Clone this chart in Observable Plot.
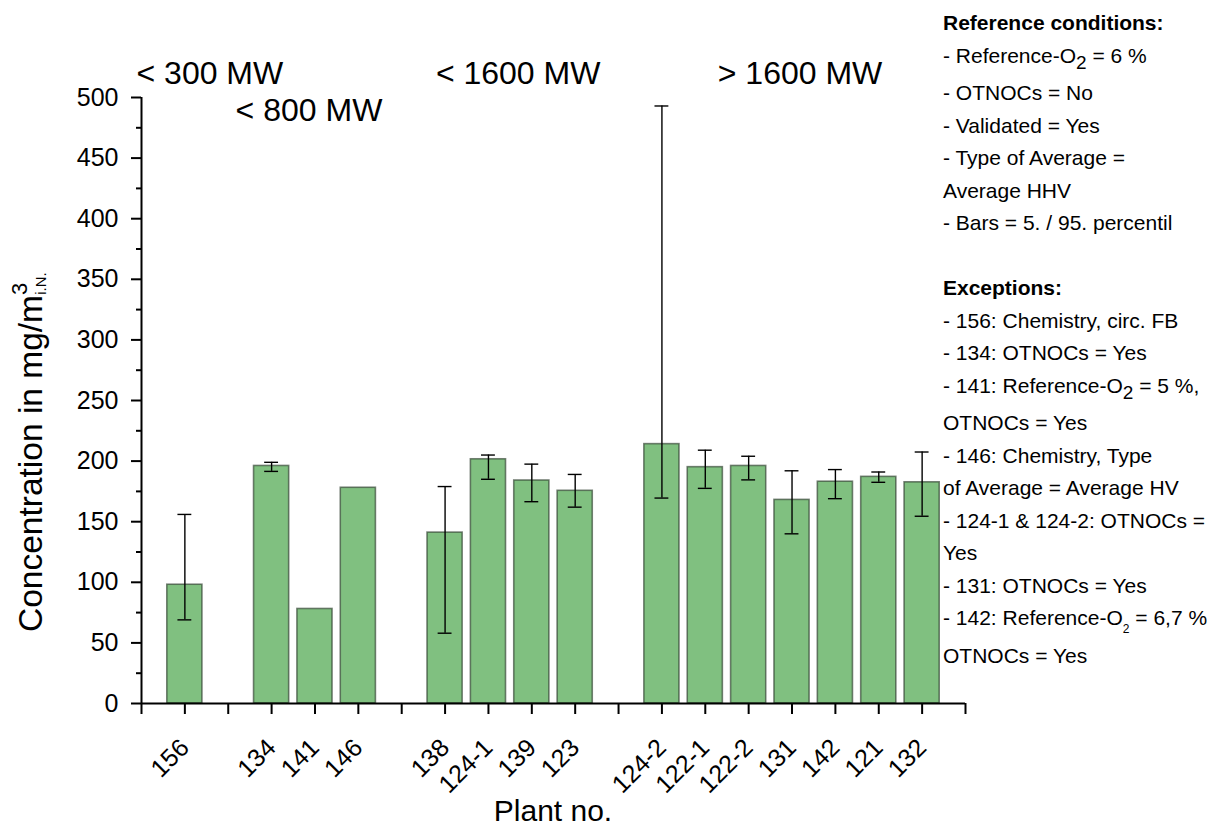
<!DOCTYPE html>
<html>
<head>
<meta charset="utf-8">
<script src="https://cdn.jsdelivr.net/npm/d3@7"></script>
<script src="https://cdn.jsdelivr.net/npm/@observablehq/plot@0.6"></script>
<style>
  html, body { margin: 0; padding: 0; background: #fff; }
  #chart { font-family: "Liberation Sans", Arial, sans-serif; }
</style>
</head>
<body>
<div id="chart"></div>
<script>
// Plants, their capacity class and the concentration statistics (mg/m³ i.N.)
const plants   = ["156", "134", "141", "146", "138", "124-1", "139", "123", "124-2", "122-1", "122-2", "131", "142", "121", "132"];
const groupOf  = [0, 1, 1, 1, 2, 2, 2, 2, 3, 3, 3, 3, 3, 3, 3];
const groupNames = ["< 300 MW", "< 800 MW", "< 1600 MW", "> 1600 MW"];
const average  = [98, 196, 78, 178, 141, 201.5, 184, 175.5, 214, 195, 196, 168, 183, 187, 182.5];
const pct5     = [69, 191.5, null, null, 58, 185, 166.5, 162, 169.5, 177.5, 184.5, 140, 169, 182.5, 154.5];
const pct95    = [156, 199, null, null, 179, 205, 197.5, 189, 493, 209, 204, 192, 193, 191, 207.5];

const yMajorTicks = d3.range(0, 501, 50);
const yMinorTicks = d3.range(25, 500, 50);

const xTitle = "Plant no.";
const yTitle = ["Concentration in mg/m", "3", "i.N."];

// Side notes; "_x" marks a large subscript, "~x" a small one
const notes = [
  {text: "Reference conditions:", bold: true},
  {text: "- Reference-O_2 = 6 %"},
  {text: "- OTNOCs = No"},
  {text: "- Validated = Yes"},
  {text: "- Type of Average ="},
  {text: "Average HHV"},
  {text: "- Bars = 5. / 95. percentil"},
  {text: ""},
  {text: "Exceptions:", bold: true},
  {text: "- 156: Chemistry, circ. FB"},
  {text: "- 134: OTNOCs = Yes"},
  {text: "- 141: Reference-O_2 = 5 %,"},
  {text: "OTNOCs = Yes"},
  {text: "- 146: Chemistry, Type"},
  {text: "of Average = Average HV"},
  {text: "- 124-1 & 124-2: OTNOCs ="},
  {text: "Yes"},
  {text: "- 131: OTNOCs = Yes"},
  {text: "- 142: Reference-O~2 = 6,7 %"},
  {text: "OTNOCs = Yes"}
];

// Each capacity class is separated from the next by one empty slot
const rows = plants.map((plant, i) => ({
  plant,
  group: groupOf[i],
  slot: i + groupOf[i] + 1,
  average: average[i],
  p5: pct5[i],
  p95: pct95[i]
}));
const nSlots = d3.max(rows, d => d.slot) + 1;
const slotLabel = new Map(rows.map(d => [d.slot, d.plant]));
const withRange = rows.filter(d => d.p5 != null);

const groups = groupNames.map((name, g) => {
  const s = rows.filter(d => d.group === g).map(d => d.slot);
  return {name, g, center: (d3.min(s) + d3.max(s)) / 2};
});

const barHalf = 0.405;
const capHalf = 0.16;
const green = "#80c080";
const labelSize = 32;

const plot = Plot.plot({
  width: 1207,
  height: 837,
  marginLeft: 141,
  marginRight: 242,
  marginTop: 97,
  marginBottom: 134,
  style: {fontFamily: "'Liberation Sans', Arial, sans-serif", color: "#000", background: "#fff"},
  x: {type: "linear", domain: [0, nSlots], axis: null},
  y: {domain: [0, 500], axis: null},
  marks: [
    Plot.rectY(rows, {
      x1: d => d.slot - barHalf, x2: d => d.slot + barHalf, y: "average",
      fill: green, stroke: "#2f3f2f", strokeOpacity: 0.65, strokeWidth: 1.6
    }),
    // 5th / 95th percentile whiskers
    Plot.ruleX(withRange, {x: "slot", y1: "p5", y2: "p95", stroke: "#000", strokeWidth: 1.4}),
    Plot.ruleY(withRange, {y: "p5", x1: d => d.slot - capHalf, x2: d => d.slot + capHalf, stroke: "#000", strokeWidth: 1.4}),
    Plot.ruleY(withRange, {y: "p95", x1: d => d.slot - capHalf, x2: d => d.slot + capHalf, stroke: "#000", strokeWidth: 1.4}),
    // axes
    Plot.axisY({ticks: yMajorTicks, tickSize: 10, tickPadding: 13, fontSize: 25, strokeWidth: 2, color: "#000", label: null}),
    Plot.axisY({ticks: yMinorTicks, tickSize: 5, tickFormat: () => "", strokeWidth: 2, color: "#000", label: null}),
    Plot.axisX({
      ticks: d3.range(0, nSlots + 1), tickSize: 11, tickPadding: 29,
      tickFormat: s => slotLabel.get(s) ?? "", tickRotate: -45,
      fontSize: 25, strokeWidth: 2, color: "#000", label: null
    }),
    Plot.ruleX([0], {y1: 0, y2: 500, stroke: "#000", strokeWidth: 2}),
    Plot.ruleY([0], {x1: 0, x2: nSlots, stroke: "#000", strokeWidth: 2}),
    // capacity classes: the smallest one starts at the axis, "< 800 MW" sits one row lower
    Plot.text(groups.filter(d => d.g === 0), {
      x: 0, y: 500, text: "name", textAnchor: "start", dx: -5, dy: -24, fontSize: labelSize, fill: "#000"
    }),
    Plot.text(groups.filter(d => d.g === 1), {
      x: "center", y: 500, text: "name", textAnchor: "middle", dx: -6, dy: 13, fontSize: labelSize, fill: "#000"
    }),
    Plot.text(groups.filter(d => d.g >= 2), {
      x: "center", y: 500, text: "name", textAnchor: "middle", dx: 8, dy: -24, fontSize: labelSize, fill: "#000"
    })
  ]
});

document.getElementById("chart").appendChild(plot);

const svg = d3.select(plot);
const xs = plot.scale("x");
const ys = plot.scale("y");

// x axis title
svg.append("text")
  .attr("x", xs.apply(nSlots / 2))
  .attr("y", 821)
  .attr("text-anchor", "middle")
  .attr("font-size", 30)
  .attr("fill", "#000")
  .text(xTitle);

// y axis title with superscript and subscript
const yt = svg.append("text")
  .attr("transform", `translate(42,${ys.apply(0) - 71}) rotate(-90)`)
  .attr("text-anchor", "start")
  .attr("font-size", 33.5)
  .attr("fill", "#000");
yt.append("tspan").text(yTitle[0]);
yt.append("tspan").attr("font-size", 22).attr("dy", -15).text(yTitle[1]);
yt.append("tspan").attr("font-size", 15).attr("dy", 19).attr("dx", -12).text(yTitle[2]);

// side notes
const notesG = svg.append("g")
  .attr("font-size", 21)
  .attr("text-anchor", "start")
  .attr("fill", "#000");
let base = 30;
for (const line of notes) {
  const t = notesG.append("text").attr("x", 943).attr("y", base);
  if (line.bold) t.attr("font-weight", "bold");
  const parts = line.text.split(/([_~]\w)/);
  let hasSub = false;
  let shift = 0;
  for (const p of parts) {
    if (!p) continue;
    if ((p[0] === "_" || p[0] === "~") && p.length === 2) {
      hasSub = true;
      const big = p[0] === "_";
      const down = big ? 6 : 8;
      t.append("tspan").attr("font-size", big ? 19 : 12).attr("dy", down).text(p[1]);
      shift = -down;
    } else {
      const s = t.append("tspan").text(p);
      if (shift) { s.attr("dy", shift); shift = 0; }
    }
  }
  base += 32.5 + (hasSub ? 5 : 0);
}
</script>
</body>
</html>
